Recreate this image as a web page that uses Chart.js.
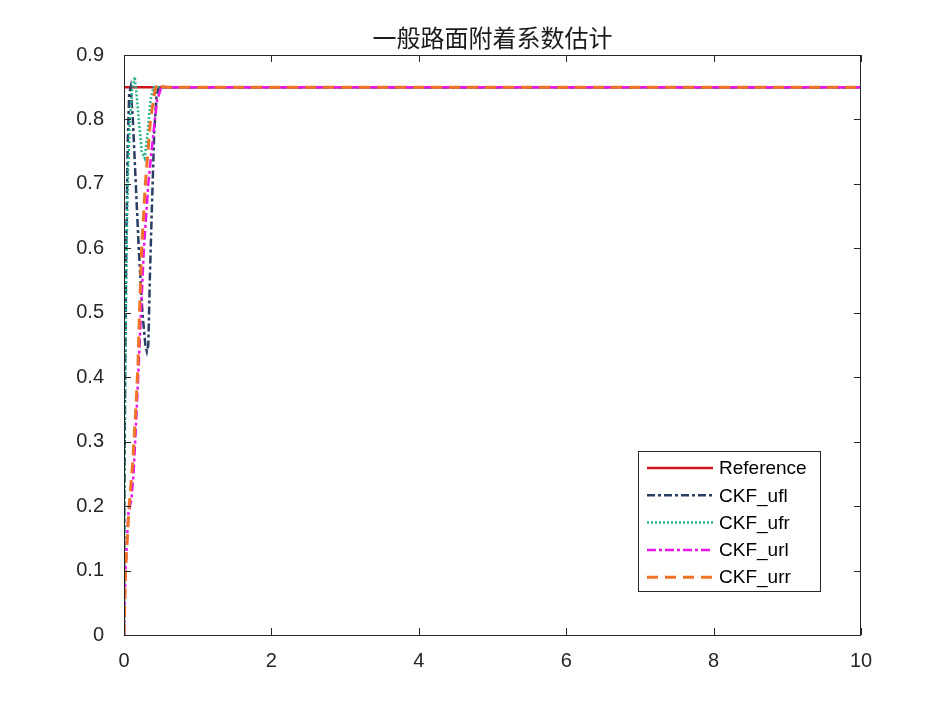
<!DOCTYPE html>
<html>
<head>
<meta charset="utf-8">
<script src="https://cdn.jsdelivr.net/npm/chart.js@4.4.1/dist/chart.umd.min.js"></script>
<style>
body{margin:0;background:#fff}
</style>
</head>
<body>
<canvas id="grafico" width="952" height="712"></canvas>
<script>
// datos
var titulo="一般路面附着系数估计";
var nombres=["Reference","CKF_ufl","CKF_ufr","CKF_url","CKF_urr"];
var xTicks=[0,2,4,6,8,10];
var yTicks=[0,0.1,0.2,0.3,0.4,0.5,0.6,0.7,0.8,0.9];

var refX=[0,10];
var refY=[0.85,0.85];
var uflX=[0,0.005,0.015,0.03,0.05,0.07,0.09,0.12,0.16,0.2,0.25,0.29,0.31,0.33,0.35,0.38,0.41,0.44,0.47,0.5,10];
var uflY=[0,0.2,0.4,0.6,0.76,0.84,0.85,0.8,0.7,0.6,0.5,0.45,0.44,0.45,0.55,0.67,0.78,0.835,0.85,0.85,0.85];
var ufrX=[0,0.004,0.01,0.02,0.035,0.055,0.08,0.11,0.145,0.17,0.2,0.24,0.28,0.32,0.36,0.4,10];
var ufrY=[0,0.17,0.3,0.45,0.6,0.72,0.8,0.845,0.866,0.84,0.8,0.75,0.74,0.78,0.83,0.85,0.85];
var urlX=[0,0.02,0.06,0.1,0.13,0.16,0.2,0.23,0.27,0.33,0.4,0.45,0.5,0.55,10];
var urlY=[0,0.1,0.19,0.21,0.25,0.32,0.42,0.5,0.6,0.7,0.78,0.83,0.848,0.85,0.85];
var urrX=[0,0.02,0.07,0.12,0.16,0.19,0.21,0.24,0.29,0.36,0.42,0.46,0.5,0.6,10];
var urrY=[0,0.1,0.2,0.27,0.35,0.42,0.5,0.6,0.7,0.8,0.845,0.856,0.851,0.85,0.85];

var colores=["rgb(210,20,30)","rgb(40,62,100)","rgb(40,180,145)","rgb(235,20,235)","rgb(240,115,40)"];
var grosores=[2.5,2.5,2.5,2.5,3];
var guiones=[[],[8,3,3,3],[2,2],[9,3,3,3],[11,7]];
var fuente='"Liberation Sans", Arial, Helvetica, sans-serif';
var colorEje="#262626";

function juntaPuntos(xs,ys){
    var res=[];
    for(var i=0;i<xs.length;i++){
        res.push({x:xs[i],y:ys[i]});
    }
    return res;
}

var series=[juntaPuntos(refX,refY),juntaPuntos(uflX,uflY),juntaPuntos(ufrX,ufrY),juntaPuntos(urlX,urlY),juntaPuntos(urrX,urrY)];
var datasets=[];
for(var i=0;i<series.length;i++){
    datasets.push({
        label:nombres[i],
        data:series[i],
        borderColor:colores[i],
        backgroundColor:colores[i],
        borderWidth:grosores[i],
        borderDash:guiones[i],
        pointRadius:0,
        tension:0,
        fill:false,
        order:series.length-i
    });
}

// marco, ticks hacia dentro, titulo y leyenda dentro del area
var marco={
    id:"marco",
    afterDraw:function(chart){
        var ctx=chart.ctx;
        var a=chart.chartArea;
        var sx=chart.scales.x, sy=chart.scales.y;
        ctx.save();
        ctx.strokeStyle=colorEje;
        ctx.lineWidth=1;
        ctx.setLineDash([]);
        ctx.strokeRect(a.left+0.5,a.top+0.5,a.right-a.left-1,a.bottom-a.top);
        var lt=7;
        ctx.beginPath();
        xTicks.forEach(function(v){
            var px=Math.round(sx.getPixelForValue(v))+0.5;
            ctx.moveTo(px,a.bottom);ctx.lineTo(px,a.bottom-lt);
            ctx.moveTo(px,a.top);ctx.lineTo(px,a.top+lt);
        });
        yTicks.forEach(function(v){
            var py=Math.round(sy.getPixelForValue(v))+0.5;
            ctx.moveTo(a.left,py);ctx.lineTo(a.left+lt,py);
            ctx.moveTo(a.right,py);ctx.lineTo(a.right-lt,py);
        });
        ctx.stroke();

        ctx.fillStyle="#1a1a1a";
        ctx.font='24px "Noto Sans CJK SC", sans-serif';
        ctx.textAlign="center";
        ctx.textBaseline="middle";
        ctx.fillText(titulo,(a.left+a.right)/2,38);

        var lx=638.5, ly=451.5, lw=182, lh=140;
        ctx.fillStyle="#fff";
        ctx.fillRect(lx,ly,lw,lh);
        ctx.strokeStyle=colorEje;
        ctx.strokeRect(lx,ly,lw,lh);
        ctx.font="19px "+fuente;
        ctx.textAlign="left";
        for(var i=0;i<nombres.length;i++){
            var yy=468+i*27.3;
            ctx.beginPath();
            ctx.strokeStyle=colores[i];
            ctx.lineWidth=grosores[i];
            ctx.setLineDash(guiones[i]);
            ctx.moveTo(647,yy);ctx.lineTo(713,yy);
            ctx.stroke();
            ctx.fillStyle="#000";
            ctx.fillText(nombres[i],719,yy+1);
        }
        ctx.restore();
    }
};

var ctx=document.getElementById("grafico").getContext("2d");
var chart=new Chart(ctx,{
    type:"line",
    data:{datasets:datasets},
    options:{
        responsive:false,
        animation:false,
        devicePixelRatio:1,
        layout:{padding:{top:55,right:91,left:0,bottom:0}},
        plugins:{legend:{display:false},title:{display:false},tooltip:{enabled:false}},
        scales:{
            x:{
                type:"linear",min:0,max:10,
                afterBuildTicks:function(s){s.ticks=xTicks.map(function(v){return {value:v};});},
                afterFit:function(s){s.height=77;},
                grid:{display:false},
                border:{display:false},
                ticks:{color:colorEje,font:{family:fuente,size:20},padding:6,maxRotation:0}
            },
            y:{
                type:"linear",min:0,max:0.9,
                afterBuildTicks:function(s){s.ticks=yTicks.map(function(v){return {value:v};});},
                afterFit:function(s){s.width=124;},
                grid:{display:false},
                border:{display:false},
                ticks:{color:colorEje,font:{family:fuente,size:20},padding:12,
                    callback:function(v){return v==0?"0":v.toFixed(1);}}
            }
        }
    },
    plugins:[marco]
});
</script>
</body>
</html>
